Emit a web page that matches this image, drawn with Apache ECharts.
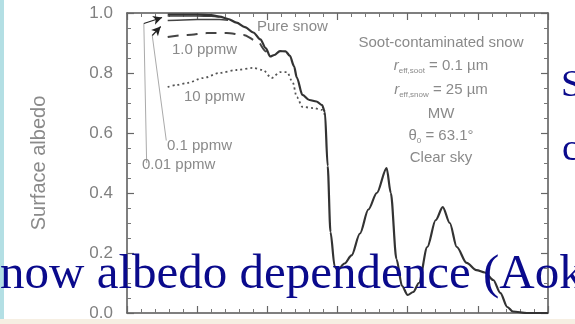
<!DOCTYPE html>
<html>
<head>
<meta charset="utf-8">
<script src="https://cdn.jsdelivr.net/npm/echarts@6/dist/echarts.min.js"></script>
<style>
html, body { margin: 0; padding: 0; background: #fff; }
#chart { width: 575px; height: 324px; }
</style>
</head>
<body>
<div id="chart"></div>
<script>
// 波长 (µm) / 反照率
const pureSnow = [
    [0.29, 0.995], [0.40, 0.995], [0.50, 0.995], [0.60, 0.993], [0.66, 0.988],
    [0.72, 0.980], [0.78, 0.968], [0.84, 0.953], [0.90, 0.935], [0.95, 0.912],
    [0.99, 0.882], [1.02, 0.855], [1.05, 0.860], [1.09, 0.873], [1.13, 0.872],
    [1.16, 0.858], [1.19, 0.823], [1.21, 0.785], [1.25, 0.727], [1.30, 0.710],
    [1.35, 0.705], [1.39, 0.693], [1.41, 0.670], [1.43, 0.490], [1.45, 0.270],
    [1.48, 0.155], [1.50, 0.143], [1.55, 0.165], [1.60, 0.192], [1.66, 0.265],
    [1.72, 0.345], [1.78, 0.400], [1.85, 0.483], [1.88, 0.400], [1.92, 0.180],
    [1.96, 0.090], [2.00, 0.060], [2.04, 0.070], [2.08, 0.100], [2.14, 0.220],
    [2.20, 0.310], [2.25, 0.353], [2.30, 0.300], [2.35, 0.220], [2.42, 0.167],
    [2.49, 0.143], [2.55, 0.135], [2.61, 0.110], [2.66, 0.067], [2.71, 0.020],
    [2.75, 0.005], [2.85, 0.000], [3.00, 0.000]
];
const soot001 = [
    [0.29, 0.990], [0.40, 0.990], [0.50, 0.990], [0.60, 0.989], [0.66, 0.987]
];
const soot01 = [
    [0.29, 0.975], [0.40, 0.977], [0.50, 0.978], [0.60, 0.978], [0.66, 0.978], [0.72, 0.976]
];
const soot1 = [
    [0.29, 0.920], [0.43, 0.927], [0.57, 0.933], [0.71, 0.933], [0.83, 0.927],
    [0.93, 0.905], [0.99, 0.872], [1.02, 0.855]
];
const soot10 = [
    [0.29, 0.753], [0.35, 0.760], [0.43, 0.767], [0.54, 0.783], [0.66, 0.800],
    [0.78, 0.810], [0.90, 0.817], [0.97, 0.810], [1.03, 0.783], [1.09, 0.803],
    [1.14, 0.803], [1.18, 0.770], [1.21, 0.720], [1.25, 0.687], [1.33, 0.683],
    [1.39, 0.677], [1.41, 0.660]
];
const curveLabels = ['Pure snow', '1.0 ppmw', '10 ppmw', '0.1 ppmw', '0.01 ppmw'];
const infoLines = [
    'Soot-contaminated snow',
    '{i|r}{s|eff,soot}{n| = 0.1 µm}',
    '{i|r}{s|eff,snow}{n| = 25 µm}',
    'MW',
    '{n|θ}{s|0}{n| = 63.1°}',
    'Clear sky'
];
const slideText = 'now albedo dependence (Aoki et al.)';

const chart = echarts.init(document.getElementById('chart'));

const axisColor = '#555';
function frameAxis(pos, extra) {
    return Object.assign({
        type: 'value',
        position: pos,
        axisLine: { show: true, onZero: false, lineStyle: { color: axisColor, width: 1.5 } },
        axisTick: { show: true, inside: true, length: 7, lineStyle: { color: '#666', width: 1.2 } },
        minorTick: { show: true, length: 4, lineStyle: { color: '#777', width: 1 } },
        splitLine: { show: false },
        axisLabel: { show: false }
    }, extra);
}

const grey = '#8a8a8a';
const labelFont = '15px "Liberation Sans", Arial, sans-serif';
const labelPos = [[257, 27], [172, 50], [184, 97], [167, 146], [142, 165]];
const infoY = [43, 66, 90, 114, 136, 158];

const graphics = [];
curveLabels.forEach((t, i) => {
    graphics.push({
        type: 'text', z: 50,
        style: { text: t, x: labelPos[i][0], y: labelPos[i][1], font: labelFont, fill: grey, verticalAlign: 'middle' }
    });
});
infoLines.forEach((t, i) => {
    graphics.push({
        type: 'text', z: 50,
        style: {
            text: t, x: 441, y: infoY[i], font: labelFont, fill: grey,
            align: 'center', verticalAlign: 'middle',
            rich: {
                i: { font: 'italic 15px "Liberation Sans", Arial', fill: grey, lineHeight: 18, verticalAlign: 'middle' },
                s: { font: '8px "Liberation Sans", Arial', fill: grey, lineHeight: 18, verticalAlign: 'bottom' },
                n: { font: labelFont, fill: grey, lineHeight: 18, verticalAlign: 'middle' }
            }
        }
    });
});
// 幻灯片背景元素
const serif = '"Liberation Serif", "Times New Roman", serif';
graphics.push(
    { type: 'rect', z: 0, shape: { x: 0, y: 0, width: 4, height: 324 }, style: { fill: '#b3dfe4' } },
    { type: 'rect', z: 0, shape: { x: 0, y: 319, width: 575, height: 5 }, style: { fill: '#f6efe3' } },
    { type: 'text', z: 100, style: { text: slideText, x: 0, y: 275, font: '49px ' + serif, fill: '#0a0a8c', verticalAlign: 'middle' } },
    { type: 'text', z: 100, style: { text: 'S', x: 561, y: 86, font: '38px ' + serif, fill: '#0a0a8c', verticalAlign: 'middle' } },
    { type: 'text', z: 100, style: { text: 'c', x: 562, y: 150, font: '38px ' + serif, fill: '#0a0a8c', verticalAlign: 'middle' } }
);

function curve(name, data, style) {
    return {
        name: name, type: 'line', data: data,
        xAxisIndex: 0, yAxisIndex: 0,
        showSymbol: false, smooth: 0.3, smoothMonotone: 'x',
        lineStyle: style, z: 5
    };
}

const arrowLines = {
    name: 'arrows', type: 'line', data: [], xAxisIndex: 0, yAxisIndex: 0,
    markLine: {
        silent: true, animation: false,
        symbol: ['none', 'none'],
        label: { show: false },
        lineStyle: { color: '#aaa', width: 1, type: 'solid' },
        data: [
            [{ coord: [0.14, 0.50] }, { coord: [0.12, 0.965] }],
            [{ coord: [0.12, 0.965], lineStyle: { color: '#222', width: 1.2 } }, { coord: [0.25, 0.985], symbol: 'arrow', symbolSize: [7, 9] }],
            [{ coord: [0.28, 0.575] }, { coord: [0.18, 0.925] }],
            [{ coord: [0.18, 0.925], lineStyle: { color: '#222', width: 1.2 } }, { coord: [0.24, 0.955], symbol: 'arrow', symbolSize: [7, 9] }]
        ]
    }
};

chart.setOption({
    animation: false,
    backgroundColor: '#fff',
    grid: { left: 127, right: 27, top: 13, bottom: 11 },
    xAxis: [
        frameAxis('bottom', { min: 0, max: 3, interval: 0.5, minorTick: { show: true, splitNumber: 5, length: 4, lineStyle: { color: '#777' } } }),
        frameAxis('top', { min: 0, max: 3, interval: 0.5, minorTick: { show: true, splitNumber: 5, length: 4, lineStyle: { color: '#777' } } })
    ],
    yAxis: [
        frameAxis('left', {
            min: 0, max: 1, interval: 0.2,
            minorTick: { show: true, splitNumber: 4, length: 4, lineStyle: { color: '#777' } },
            axisLabel: { show: true, margin: 14, color: '#808080', fontSize: 17, fontFamily: '"Liberation Sans", Arial', formatter: v => v.toFixed(1) },
            name: 'Surface albedo', nameLocation: 'middle', nameGap: 78,
            nameTextStyle: { color: '#8a8a8a', fontSize: 20, fontFamily: '"Liberation Sans", Arial' }
        }),
        frameAxis('right', {
            min: 0, max: 1, interval: 0.2,
            minorTick: { show: true, splitNumber: 4, length: 4, lineStyle: { color: '#777' } }
        })
    ],
    graphic: graphics,
    series: [
        curve('10 ppmw', soot10, { color: '#555', width: 1.8, type: [2, 3] }),
        curve('1.0 ppmw', soot1, { color: '#444', width: 2, type: [11, 8] }),
        curve('0.1 ppmw', soot01, { color: '#444', width: 1.5 }),
        curve('0.01 ppmw', soot001, { color: '#444', width: 1.5 }),
        curve('Pure snow', pureSnow, { color: '#333', width: 2.2 }),
        arrowLines
    ]
});
</script>
</body>
</html>
